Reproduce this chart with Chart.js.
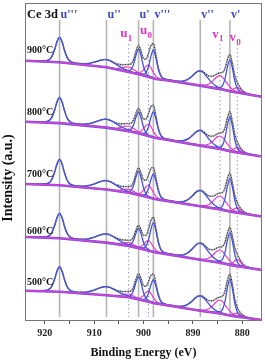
<!DOCTYPE html>
<html><head><meta charset="utf-8">
<script src="https://cdn.jsdelivr.net/npm/chart.js@4.4.1/dist/chart.umd.min.js"></script>
<style>html,body{margin:0;padding:0;background:#fff;}#wrap{width:265px;height:362px;}</style>
</head><body><div id="wrap"><canvas id="c" width="265" height="362"></canvas></div>
<script>
// ---------------- data ----------------
const temperatures = ['900°C', '800°C', '700°C', '600°C', '500°C'];
const componentMain = ['u', 'u', 'u', 'u', 'u', 'v', 'v', 'v', 'v', 'v'];
const componentMark = ["'''", "''", '1', "'", '0', "'''", "''", '1', "'", '0'];
const componentCenters = [917, 907.5, 903, 901, 899, 898, 888.5, 884.5, 882.5, 881]; // eV
const componentFamily = ['blue', 'blue', 'pink', 'blue', 'pink', 'blue', 'blue', 'pink', 'blue', 'pink'];
const componentProfile = ['mid', 'broad', 'wide', 'narrow', 'mid', 'narrow', 'vmid', 'wide', 'narrow', 'narrow'];

// normalized peak shapes, sampled every 0.5 eV from the centre outward
const profileNarrow = [1, 0.75, 0.354, 0.127, 0.05, 0.029, 0.02, 0.015, 0.012, 0];
const profileMid = [1, 0.829, 0.5, 0.239, 0.104, 0.05, 0.031, 0.023, 0.018, 0.014, 0];
const profileWide = [1, 0.918, 0.723, 0.5, 0.312, 0.182, 0.104, 0.063, 0.042, 0.031, 0.025, 0];
const profileVmid = [1, 0.946, 0.804, 0.625, 0.45, 0.303, 0.196, 0.124, 0.08, 0.055, 0.04, 0.031, 0.026, 0];
const profileBroad = [1, 0.97, 0.885, 0.766, 0.632, 0.5, 0.381, 0.281, 0.203, 0.145, 0.104, 0.076, 0.057, 0.045, 0.037, 0.031, 0];

// component heights above background (a.u.), order as componentCenters
const heights900 = [25, 7.6, 5, 25.3, 11.8, 28.3, 14.5, 13.4, 31.6, 5.2];
const heights800 = [25.8, 8.3, 5.1, 21.5, 12.1, 25.7, 14.9, 12.9, 34.4, 5.2];
const heights700 = [26, 8.8, 3.5, 24, 12.2, 24.7, 15.6, 13.4, 33.2, 5.1];
const heights600 = [25, 8.6, 3.2, 19.8, 9.9, 29.2, 16.4, 12.8, 32.2, 6.9];
const heights500 = [25, 8.6, 3.3, 22.9, 10.6, 23.1, 14.7, 13.5, 36.5, 3.5];

// background (Shirley) curve, read at these energies, offset-stacked spectra
const baselineEnergies = [924, 917, 907.5, 903, 900.5, 897.5, 895, 888.5, 884.5, 882, 876];
const baseline900 = [260.3, 258.7, 253.7, 249, 246.2, 242, 240.5, 235.4, 231.9, 229.3, 224.2];
const baseline800 = [199.3, 197.9, 193.4, 189.9, 186.9, 182.9, 181, 175.4, 172.1, 169.3, 164.5];
const baseline700 = [137, 135.7, 131.5, 128.2, 125.4, 121.7, 119.9, 114.7, 111.6, 109, 104.5];
const baseline600 = [84, 82.7, 78.4, 75.1, 72.3, 68.5, 66.6, 61.3, 58.2, 55.6, 51];
const baseline500 = [30.3, 29.3, 25.7, 23.7, 20.9, 17.6, 15.5, 10.3, 7.5, 5, 1];

const xTickValues = [920, 915, 910, 905, 900, 895, 890, 885, 880];
const xTickLabels = [920, 910, 900, 890, 880];

// ---------------- layout / style ----------------
const FONT = "'Liberation Serif', 'Times New Roman', serif";
const X_MIN = 876, X_MAX = 924, Y_MIN = 0, Y_MAX = 318, STEP = 0.5;
const COL_BLUE = '#4652d6', COL_PINK = '#ec3cc8', COL_BASE_UNDER = '#5b55dd', COL_BASE = '#dd3fd3';
const REF_SOLID_TOP = 301, REF_DOT_TOP = 277, REF_BOTTOM = 4;
const LABEL_LEVEL_BLUE = 303;
const LABEL_LEVEL_PINK = {2: 284, 4: 287, 7: 283.5, 9: 280};
const TEMP_LABEL_LEVELS = [268, 206, 144, 87, 36];

const profiles = {narrow: profileNarrow, mid: profileMid, wide: profileWide, vmid: profileVmid, broad: profileBroad};
const spectra = [
  {base: baseline900, h: heights900},
  {base: baseline800, h: heights800},
  {base: baseline700, h: heights700},
  {base: baseline600, h: heights600},
  {base: baseline500, h: heights500}
];

function baselineAt(levels, E) {
  for (let i = 0; i < baselineEnergies.length - 1; i++) {
    const a = baselineEnergies[i], b = baselineEnergies[i + 1];
    if (E <= a && E >= b) return levels[i] + (levels[i + 1] - levels[i]) * (a - E) / (a - b);
  }
  return E > baselineEnergies[0] ? levels[0] : levels[levels.length - 1];
}
function componentAt(ci, h, E) {
  const prof = profiles[componentProfile[ci]];
  const k = Math.round(Math.abs(E - componentCenters[ci]) / STEP);
  return k < prof.length ? h * prof[k] : 0;
}

const energyGrid = [];
for (let i = 0; X_MAX - i * STEP >= X_MIN - 1e-9; i++) energyGrid.push(+(X_MAX - i * STEP).toFixed(2));

const datasets = [];
// reference lines
componentCenters.forEach((c, ci) => {
  const solid = componentFamily[ci] === 'blue';
  datasets.push({
    data: [{x: c, y: solid ? REF_SOLID_TOP : REF_DOT_TOP}, {x: c, y: REF_BOTTOM}],
    borderColor: solid ? '#b4b4b4' : '#8f9cc8', borderWidth: solid ? 1.6 : 1,
    borderDash: solid ? [] : [1.5, 2.5], order: 20, tension: 0
  });
});
spectra.forEach(s => {
  // envelope = background + sum of components
  const env = energyGrid.map(E => {
    let v = baselineAt(s.base, E);
    componentCenters.forEach((c, ci) => { v += componentAt(ci, s.h[ci], E); });
    return {x: E, y: v};
  });
  datasets.push({data: env, borderColor: '#a9a9a9', borderWidth: 1.6, cubicInterpolationMode: 'monotone', order: 12});
  datasets.push({data: env, borderColor: '#2a2a2a', borderWidth: 1.1, borderDash: [1, 1.6], cubicInterpolationMode: 'monotone', order: 11});
  componentCenters.forEach((c, ci) => {
    const prof = profiles[componentProfile[ci]];
    const n = prof.length;
    const pts = [];
    for (let j = -(n - 1); j <= n - 1; j++) {
      const E = c - j * STEP;
      if (E > X_MAX || E < X_MIN) continue;
      pts.push({x: E, y: baselineAt(s.base, E) + s.h[ci] * prof[Math.abs(j)]});
    }
    const blue = componentFamily[ci] === 'blue';
    datasets.push({data: pts, borderColor: blue ? COL_BLUE : COL_PINK, borderWidth: blue ? 1.3 : 1.2,
      cubicInterpolationMode: 'monotone', order: blue ? 5 : 6});
  });
  const bpts = baselineEnergies.map((E, i) => ({x: E, y: s.base[i]}));
  datasets.push({data: bpts, borderColor: COL_BASE_UNDER, borderWidth: 2.6, tension: 0, order: 3});
  datasets.push({data: bpts, borderColor: COL_BASE, borderWidth: 1.5, tension: 0, order: 2});
});

const annotations = {
  id: 'annotations',
  afterDatasetsDraw(chart) {
    const {ctx, chartArea: a, scales: {x, y}} = chart;
    ctx.save();
    ctx.strokeStyle = '#777'; ctx.lineWidth = 1;
    ctx.strokeRect(a.left + 0.5, a.top + 0.5, a.right - a.left - 1, a.bottom - a.top - 1);
    ctx.textBaseline = 'alphabetic';
    // component labels
    componentCenters.forEach((c, ci) => {
      const px = x.getPixelForValue(c);
      if (componentFamily[ci] === 'blue') {
        ctx.fillStyle = '#3d44c6'; ctx.font = 'bold 12px ' + FONT; ctx.textAlign = 'left';
        ctx.fillText(componentMain[ci] + componentMark[ci], px + 1, y.getPixelForValue(LABEL_LEVEL_BLUE));
      } else {
        const py = y.getPixelForValue(LABEL_LEVEL_PINK[ci]);
        ctx.fillStyle = '#e431cb';
        ctx.font = 'bold 13px ' + FONT; ctx.textAlign = 'right';
        ctx.fillText(componentMain[ci], px - 1.2, py);
        ctx.font = 'bold 9px ' + FONT; ctx.textAlign = 'left';
        ctx.fillText(componentMark[ci], px - 1, py + 3.5);
      }
    });
    ctx.fillStyle = '#111'; ctx.textAlign = 'left';
    ctx.font = 'bold 12.5px ' + FONT;
    ctx.fillText('Ce 3d', a.left + 2, 18);
    ctx.font = 'bold 10px ' + FONT;
    temperatures.forEach((t, i) => ctx.fillText(t, a.left + 2, y.getPixelForValue(TEMP_LABEL_LEVELS[i])));
    // y axis title
    ctx.translate(8, 178); ctx.rotate(-Math.PI / 2);
    ctx.textAlign = 'center'; ctx.textBaseline = 'middle';
    ctx.font = 'bold 14px ' + FONT;
    ctx.fillText('Intensity (a.u.)', 0, 0);
    ctx.restore();
  }
};

new Chart(document.getElementById('c'), {
  type: 'line',
  data: {datasets},
  options: {
    responsive: false, animation: false, devicePixelRatio: 1,
    layout: {padding: {left: 0, right: 3, top: 3, bottom: 0}},
    plugins: {legend: {display: false}, tooltip: {enabled: false}},
    elements: {point: {radius: 0}, line: {fill: false}},
    scales: {
      x: {
        type: 'linear', reverse: true, min: X_MIN, max: X_MAX,
        afterBuildTicks: s => { s.ticks = xTickValues.map(v => ({value: v})); },
        afterFit: s => { s.height = 41; },
        ticks: {autoSkip: false, maxRotation: 0, padding: 3, color: '#222',
          font: {family: FONT, size: 10, weight: 'bold'},
          callback: v => xTickLabels.includes(v) ? String(v) : ''},
        grid: {display: true, drawOnChartArea: false, drawTicks: true, tickLength: 3, color: '#555', tickColor: '#555'},
        border: {display: false},
        title: {display: true, text: 'Binding Energy (eV)', color: '#111',
          font: {family: FONT, size: 12, weight: 'bold'}, padding: {top: 0, bottom: 2}}
      },
      y: {
        min: Y_MIN, max: Y_MAX,
        afterFit: s => { s.width = 25; },
        ticks: {display: false}, grid: {display: false}, border: {display: false}
      }
    }
  },
  plugins: [annotations]
});
</script></body></html>
